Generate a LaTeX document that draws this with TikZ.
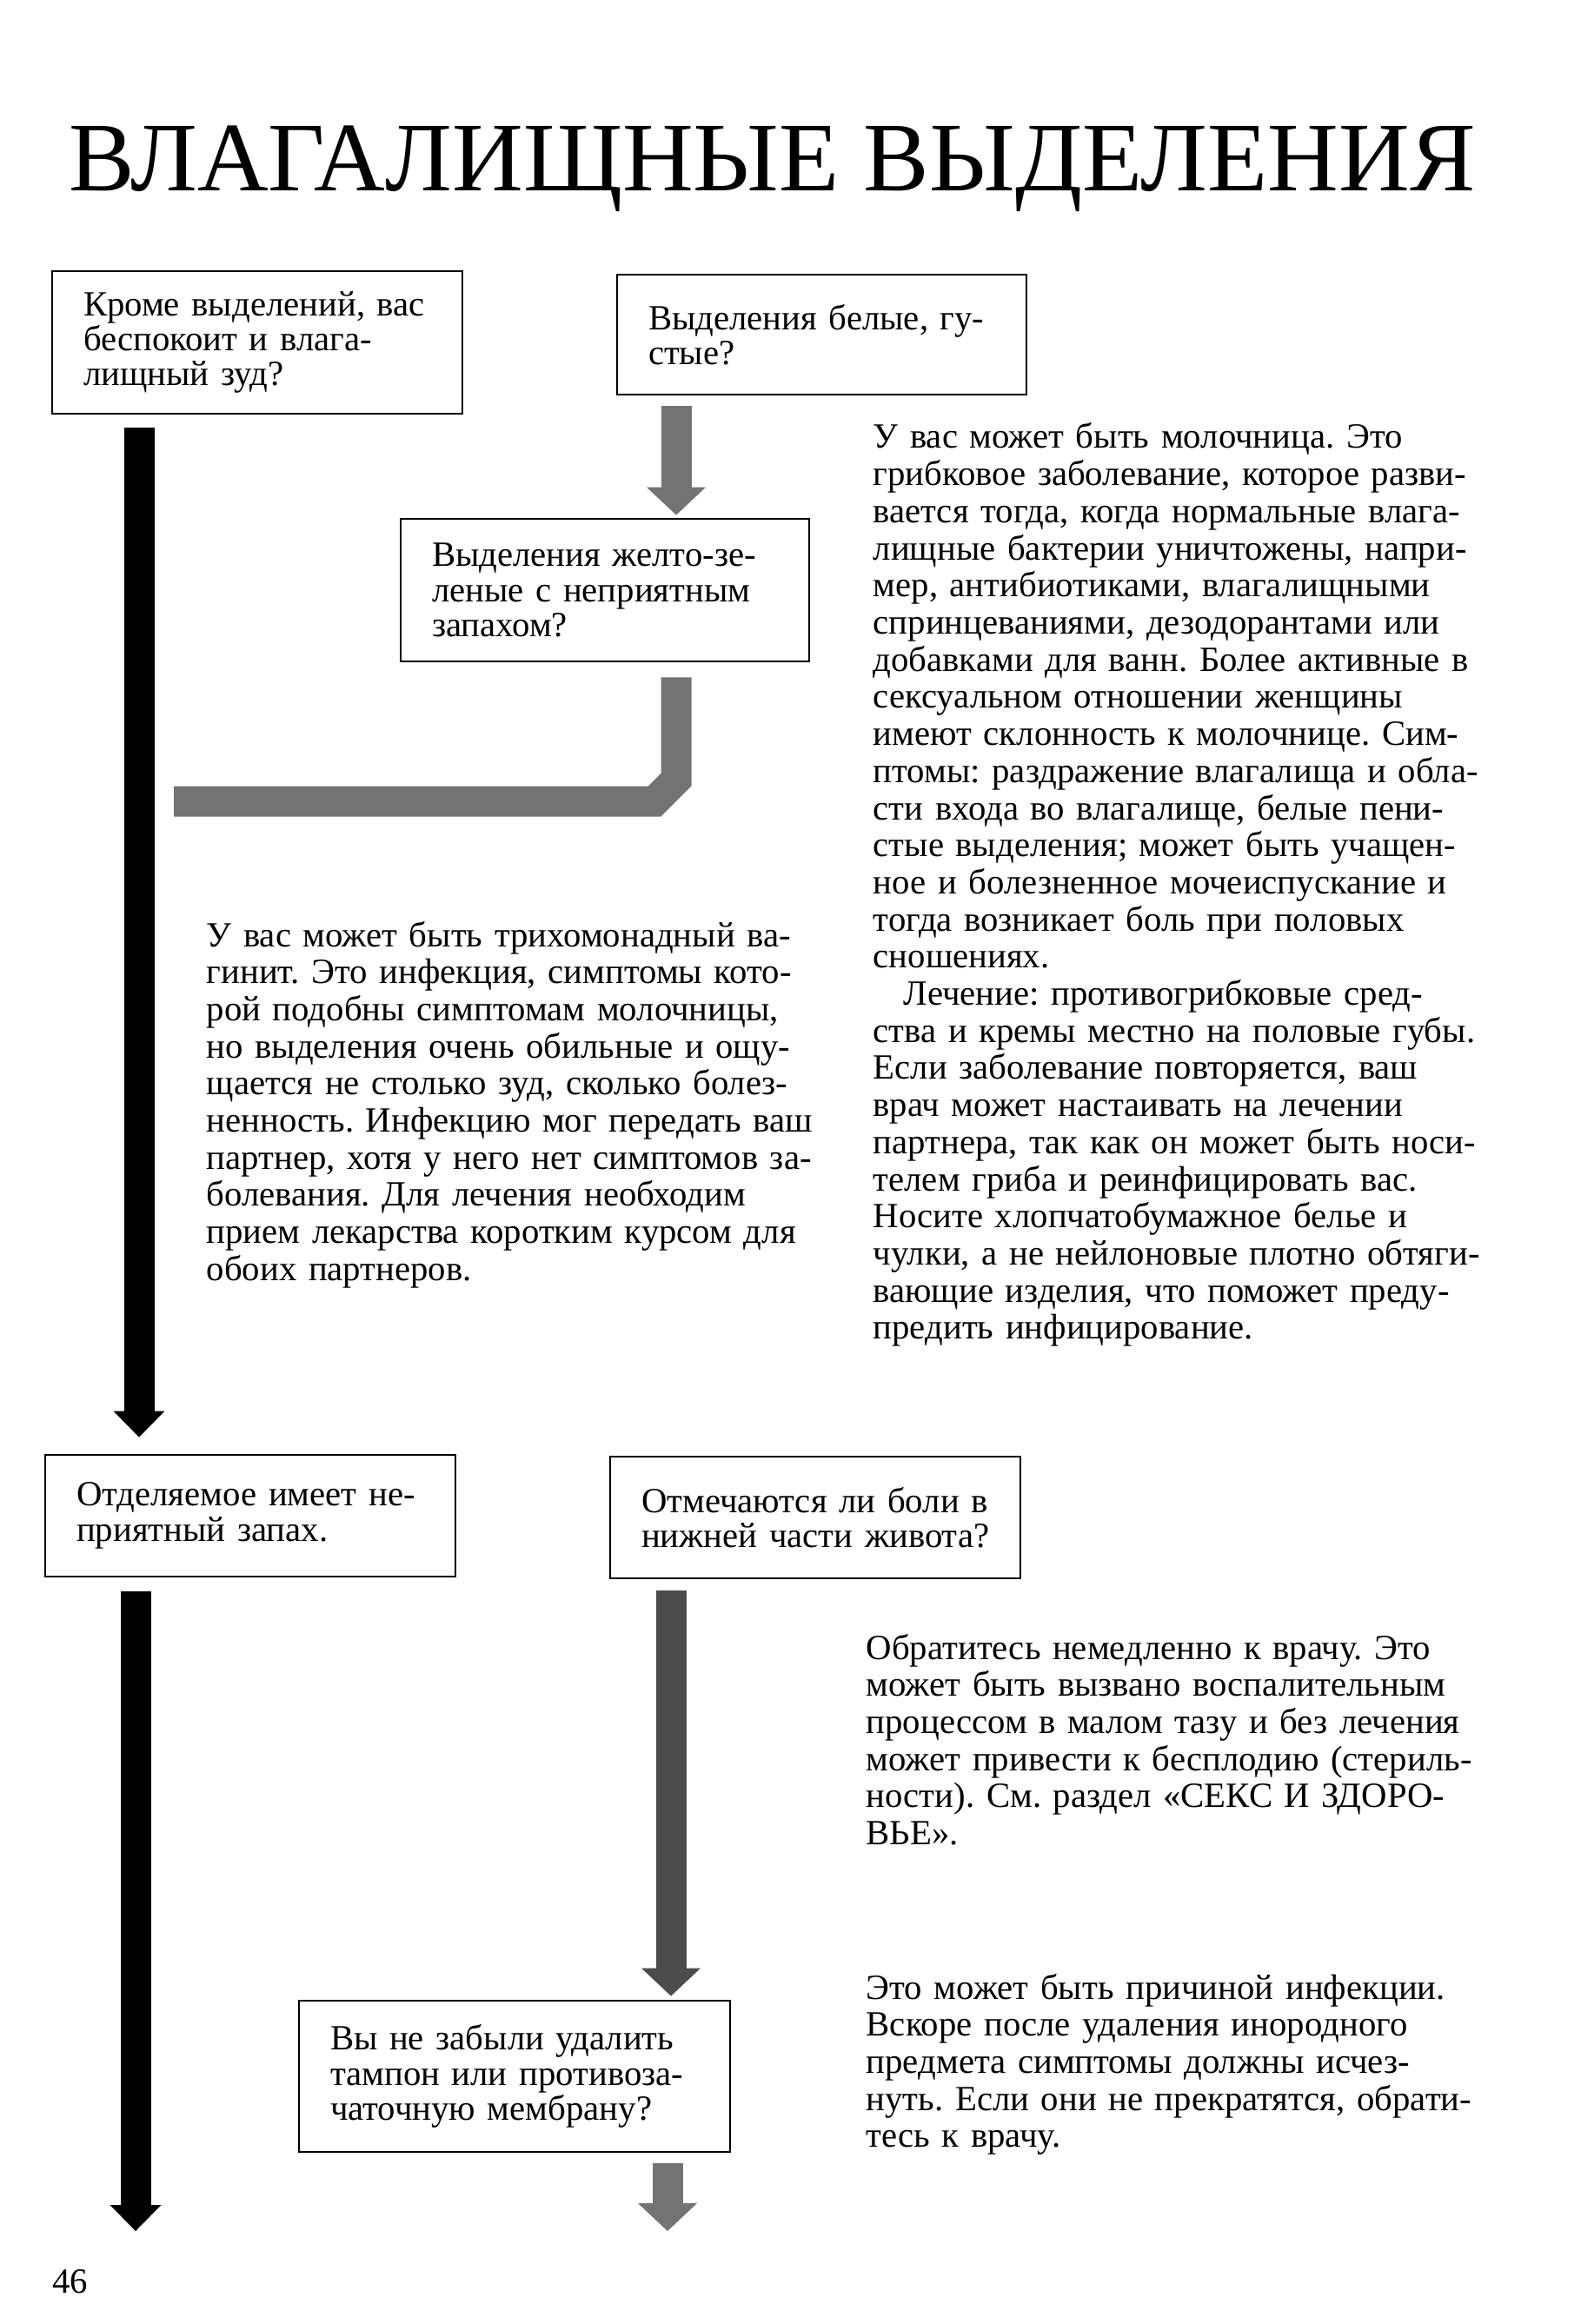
\documentclass[tikz,border=0pt]{standalone}
\usepackage{fontspec}
\setmainfont{Liberation Serif}
\usetikzlibrary{arrows.meta,calc}

\newcommand{\bodyfont}{\fontsize{11.6}{12.15}\selectfont}
\newcommand{\boxfont}{\fontsize{11.6}{11.5}\selectfont}
% one justified line of a column
\newcommand{\jl}[1]{\makebox[\linewidth][s]{#1}\\}
\frenchspacing

\begin{document}
\begin{tikzpicture}[
  every node/.style={font=\bodyfont},
  qbox/.style={draw,line width=0.8pt,rectangle,inner xsep=3.6mm,inner ysep=0pt,
    text width=#1,align=left,font=\boxfont},
  para/.style={anchor=base west,inner sep=0pt,text width=#1,align=left},
  blackarr/.style={line width=3.5mm,draw=black,
    -{Triangle[width=5.9mm,length=3mm,line width=0pt]}},
  grayarr/.style={line width=3.5mm,draw=black!55,
    -{Triangle[width=6.8mm,length=3.2mm,line width=0pt]}},
  grayline/.style={line width=3.5mm,draw=black!55}]
  \path[use as bounding box] (0,0) rectangle (18.34,-26.74);

  \node[anchor=base,font=\fontsize{32.2}{32}\selectfont] (head) at (8.885,-2.20)
    {ВЛАГАЛИЩНЫЕ ВЫДЕЛЕНИЯ};

  % Question boxes.
  \node[qbox=4.00cm,minimum height=1.64cm] (itch) at (2.96,-3.94)
    {Кроме выделений, вас\\беспокоит и влага-\\лищный зуд?};
  \node[qbox=3.99cm,minimum height=1.38cm] (white) at (9.455,-3.85)
    {Выделения белые, гу-\\стые?};
  \node[qbox=3.98cm,minimum height=1.64cm] (yellow) at (6.96,-6.79)
    {Выделения желто-зе-\\леные с неприятным\\запахом?};
  \node[qbox=4.00cm,minimum height=1.40cm] (smell) at (2.88,-17.44)
    {Отделяемое имеет не-\\приятный запах.};
  \node[qbox=4.00cm,minimum height=1.40cm] (pain) at (9.38,-17.46)
    {Отмечаются ли боли в\\\mbox{нижней части живота?}};
  \node[qbox=4.24cm,minimum height=1.74cm] (tampon) at (5.92,-23.89)
    {Вы не забыли удалить\\тампон или противоза-\\чаточную мембрану?};

  % Answer columns.
  \node[para=7.07cm] (thrush) at (10.04,-5.16)
    {\jl{У вас может быть молочница. Это}
     \jl{грибковое заболевание, которое разви-}
     \jl{вается тогда, когда нормальные влага-}
     \jl{лищные бактерии уничтожены, напри-}
     \jl{мер, антибиотиками, влагалищными}
     \jl{спринцеваниями, дезодорантами или}
     \jl{добавками для ванн. Более активные в}
     \jl{сексуальном отношении женщины}
     \jl{имеют склонность к молочнице. Сим-}
     \jl{птомы: раздражение влагалища и обла-}
     \jl{сти входа во влагалище, белые пени-}
     \jl{стые выделения; может быть учащен-}
     \jl{ное и болезненное мочеиспускание и}
     \jl{тогда возникает боль при половых}
     сношениях.\\
     \jl{\hspace*{0.35cm}Лечение: противогрибковые сред-}
     \jl{ства и кремы местно на половые губы.}
     \jl{Если заболевание повторяется, ваш}
     \jl{врач может настаивать на лечении}
     \jl{партнера, так как он может быть носи-}
     \jl{телем гриба и реинфицировать вас.}
     \jl{Носите хлопчатобумажное белье и}
     \jl{чулки, а не нейлоновые плотно обтяги-}
     \jl{вающие изделия, что поможет преду-}
     предить инфицирование.};
  \node[para=7.02cm] (trich) at (2.37,-10.89)
    {\jl{У вас может быть трихомонадный ва-}
     \jl{гинит. Это инфекция, симптомы кото-}
     \jl{рой подобны симптомам молочницы,}
     \jl{но выделения очень обильные и ощу-}
     \jl{щается не столько зуд, сколько болез-}
     \jl{ненность. Инфекцию мог передать ваш}
     \jl{партнер, хотя у него нет симптомов за-}
     \jl{болевания. Для лечения необходим}
     \jl{прием лекарства коротким курсом для}
     обоих партнеров.};
  \node[para=7.10cm] (doctor) at (9.96,-19.09)
    {\jl{Обратитесь немедленно к врачу. Это}
     \jl{может быть вызвано воспалительным}
     \jl{процессом в малом тазу и без лечения}
     \jl{может привести к бесплодию (стериль-}
     \jl{ности). См. раздел «СЕКС И ЗДОРО-}
     ВЬЕ».};
  \node[para=7.10cm] (foreign) at (9.96,-23.00)
    {\jl{Это может быть причиной инфекции.}
     \jl{Вскоре после удаления инородного}
     \jl{предмета симптомы должны исчез-}
     \jl{нуть. Если они не прекратятся, обрати-}
     тесь к врачу.};

  \node[anchor=base west] (page) at (0.48,-26.38) {46};

  % Lanes of the block arrows.
  \coordinate (laneA) at (1.60,0);
  \coordinate (laneB) at (1.56,0);
  \coordinate (laneC) at (7.78,0);
  \coordinate (laneD) at (7.72,0);
  \coordinate (laneE) at (7.68,0);
  \coordinate (bend) at (7.78,-8.97);
  \coordinate (merge) at (2.00,-9.22);
  \coordinate (endB) at (1.56,-25.67);
  \coordinate (endE) at (7.68,-25.67);

  \draw[blackarr] ($(itch.south -| laneA)+(0,-0.15)$) -- ($(smell.north -| laneA)+(0,0.19)$);
  \draw[blackarr] ($(smell.south -| laneB)+(0,-0.16)$) -- (endB);
  \draw[grayarr] ($(white.south -| laneC)+(0,-0.12)$) -- ($(yellow.north -| laneC)+(0,0.03)$);
  \draw[grayline] ($(yellow.south -| laneC)+(0,-0.17)$) -- (bend) -- ++(-0.25,-0.25) -- (merge);
  \draw[grayarr,draw=black!70] ($(pain.south -| laneD)+(0,-0.13)$) -- ($(tampon.north -| laneD)+(0,0.04)$);
  \draw[grayarr] ($(tampon.south -| laneE)+(0,-0.12)$) -- (endE);
\end{tikzpicture}
\end{document}
